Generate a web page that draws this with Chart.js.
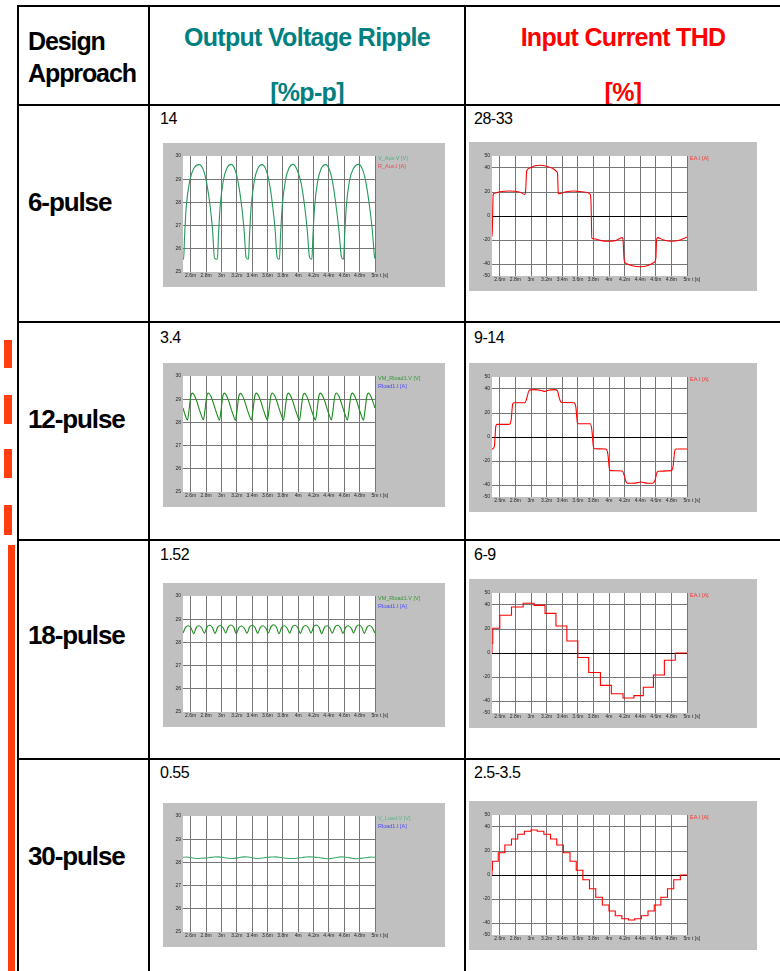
<!DOCTYPE html>
<html>
<head>
<meta charset="utf-8">
<style>
  body { margin: 0; background: #fff; width: 780px; height: 971px; overflow: hidden; position: relative;
         font-family: "Liberation Sans", Arial, sans-serif; }
  .ln { position: absolute; background: #000; }
  .bar { position: absolute; background: #ff3d0d; }
  .txt { position: absolute; line-height: 1; white-space: nowrap; }
  .hd { font-size: 25px; font-weight: bold; letter-spacing: -0.7px; text-align: center; }
  .teal { color: #008080; }
  .red { color: #ff0000; }
  #head { position: absolute; left: 0; top: 0; width: 780px; height: 104px; overflow: hidden; }
  canvas { position: absolute; }
</style>
</head>
<body>
<div id="head">
  <div class="txt" style="left:28px;top:29px;font-size:25px;font-weight:bold;letter-spacing:-1.1px;">Design</div>
  <div class="txt" style="left:28px;top:61px;font-size:25px;font-weight:bold;letter-spacing:-1.1px;">Approach</div>
  <div class="txt hd teal" style="left:150px;width:314px;top:25px;">Output Voltage Ripple</div>
  <div class="txt hd teal" style="left:150px;width:314px;top:80px;">[%p-p]</div>
  <div class="txt hd red" style="left:466px;width:314px;top:25px;">Input Current THD</div>
  <div class="txt hd red" style="left:466px;width:314px;top:80px;">[%]</div>
</div>

<!-- table rules -->
<div class="ln" style="left:17px;top:5px;width:763px;height:2px;"></div>
<div class="ln" style="left:17px;top:104px;width:763px;height:2px;"></div>
<div class="ln" style="left:17px;top:321px;width:763px;height:2px;"></div>
<div class="ln" style="left:17px;top:539px;width:763px;height:2px;"></div>
<div class="ln" style="left:17px;top:758px;width:763px;height:2px;"></div>
<div class="ln" style="left:17px;top:5px;width:2px;height:966px;"></div>
<div class="ln" style="left:148px;top:5px;width:2px;height:966px;"></div>
<div class="ln" style="left:464px;top:5px;width:2px;height:966px;"></div>

<!-- red marker bars on the left -->
<div class="bar" style="left:4px;top:340px;width:8px;height:28px;"></div>
<div class="bar" style="left:4px;top:395px;width:8px;height:29px;"></div>
<div class="bar" style="left:4px;top:449px;width:8px;height:29px;"></div>
<div class="bar" style="left:4px;top:505px;width:8px;height:30px;"></div>
<div class="bar" style="left:8px;top:545px;width:7px;height:426px;"></div>

<div id="rows"></div>

<canvas id="v6" width="282" height="144" style="left:163px;top:143px;"></canvas>
<canvas id="i6" width="288" height="149" style="left:469px;top:142px;"></canvas>
<canvas id="v12" width="282" height="144" style="left:163px;top:363px;"></canvas>
<canvas id="i12" width="288" height="149" style="left:469px;top:363px;"></canvas>
<canvas id="v18" width="282" height="144" style="left:163px;top:583px;"></canvas>
<canvas id="i18" width="288" height="149" style="left:469px;top:579px;"></canvas>
<canvas id="v30" width="282" height="144" style="left:163px;top:803px;"></canvas>
<canvas id="i30" width="288" height="149" style="left:469px;top:801px;"></canvas>

<script src="https://cdn.jsdelivr.net/npm/chart.js@4.4.1/dist/chart.umd.min.js"></script>
<script>
// table text
const designs = ['6-pulse', '12-pulse', '18-pulse', '30-pulse'];
const rippleText = ['14', '3.4', '1.52', '0.55'];
const thdText = ['28-33', '9-14', '6-9', '2.5-3.5'];

// scope axes (time in ms)
const xTickVals = [2.6, 2.8, 3.0, 3.2, 3.4, 3.6, 3.8, 4.0, 4.2, 4.4, 4.6, 4.8, 5.0];
const xTickLabels = ['2.6m', '2.8m', '3m', '3.2m', '3.4m', '3.6m', '3.8m', '4m', '4.2m', '4.4m', '4.6m', '4.8m', '5m'];
const voltTicks = [25, 26, 27, 28, 29, 30];
const currTicks = [-50, -40, -20, 0, 20, 40, 50];

// 6-pulse output voltage
const v6Time = [2.500, 2.508, 2.520, 2.542, 2.590, 2.640, 2.710, 2.765, 2.810, 2.855, 2.885, 2.910,
  2.948, 2.961, 2.983, 3.026, 3.070, 3.126, 3.178, 3.222, 3.265, 3.296, 3.322,
  3.352, 3.365, 3.387, 3.430, 3.474, 3.530, 3.582, 3.626, 3.669, 3.700, 3.726,
  3.756, 3.769, 3.791, 3.834, 3.878, 3.934, 3.986, 4.040, 4.085, 4.118, 4.148,
  4.178, 4.191, 4.213, 4.256, 4.300, 4.356, 4.408, 4.452, 4.495, 4.530, 4.565,
  4.591, 4.604, 4.626, 4.669, 4.720, 4.785, 4.840, 4.885, 4.930, 4.965, 4.995, 5.000];
const v6Volt = [25.58, 25.55, 26.5, 27.8, 28.96, 29.46, 29.63, 29.4, 28.8, 27.8, 26.8, 25.6,
  25.55, 26.5, 27.8, 28.96, 29.46, 29.64, 29.4, 28.8, 27.8, 26.8, 25.62,
  25.55, 26.5, 27.8, 28.96, 29.46, 29.63, 29.4, 28.8, 27.8, 26.8, 25.62,
  25.55, 26.5, 27.8, 28.96, 29.46, 29.64, 29.4, 28.8, 27.8, 26.8, 25.62,
  25.55, 26.5, 27.8, 28.96, 29.46, 29.63, 29.4, 28.8, 27.8, 26.8, 25.62,
  25.55, 26.5, 27.8, 28.96, 29.46, 29.64, 29.4, 28.8, 27.8, 26.8, 25.62, 25.58];

// 12-pulse output voltage
const v12Time = [2.500, 2.530,
  2.557, 2.579, 2.600, 2.622, 2.657, 2.687, 2.714, 2.740,
  2.765, 2.787, 2.808, 2.830, 2.865, 2.895, 2.922, 2.948,
  2.974, 2.996, 3.017, 3.039, 3.074, 3.104, 3.131, 3.157,
  3.182, 3.204, 3.225, 3.247, 3.282, 3.312, 3.339, 3.365,
  3.390, 3.412, 3.433, 3.455, 3.490, 3.520, 3.547, 3.573,
  3.599, 3.621, 3.642, 3.664, 3.699, 3.729, 3.756, 3.782,
  3.807, 3.829, 3.850, 3.872, 3.907, 3.937, 3.964, 3.990,
  4.015, 4.037, 4.058, 4.080, 4.115, 4.145, 4.172, 4.198,
  4.224, 4.246, 4.267, 4.289, 4.324, 4.354, 4.381, 4.407,
  4.432, 4.454, 4.475, 4.497, 4.532, 4.562, 4.589, 4.615,
  4.640, 4.662, 4.683, 4.705, 4.740, 4.770, 4.797, 4.823,
  4.849, 4.871, 4.892, 4.914, 4.949, 4.979, 5.000];
const v12Volt = [28.62, 28.30,
  28.10, 28.54, 29.10, 29.26, 29.11, 28.83, 28.54, 28.29,
  28.11, 28.55, 29.11, 29.27, 29.12, 28.84, 28.55, 28.30,
  28.10, 28.54, 29.10, 29.26, 29.11, 28.83, 28.54, 28.29,
  28.09, 28.53, 29.09, 29.25, 29.10, 28.82, 28.53, 28.28,
  28.10, 28.54, 29.10, 29.26, 29.11, 28.83, 28.54, 28.29,
  28.11, 28.55, 29.11, 29.27, 29.12, 28.84, 28.55, 28.30,
  28.10, 28.54, 29.10, 29.26, 29.11, 28.83, 28.54, 28.29,
  28.09, 28.53, 29.09, 29.25, 29.10, 28.82, 28.53, 28.28,
  28.10, 28.54, 29.10, 29.26, 29.11, 28.83, 28.54, 28.29,
  28.11, 28.55, 29.11, 29.27, 29.12, 28.84, 28.55, 28.30,
  28.10, 28.54, 29.10, 29.26, 29.11, 28.83, 28.54, 28.29,
  28.10, 28.54, 29.10, 29.26, 29.11, 28.83, 28.62];

// 18-pulse output voltage
const v18Time = [2.500, 2.535, 2.570, 2.605,
  2.639, 2.674, 2.709, 2.744,
  2.778, 2.813, 2.848, 2.883,
  2.917, 2.952, 2.987, 3.022,
  3.056, 3.091, 3.126, 3.161,
  3.194, 3.229, 3.264, 3.299,
  3.333, 3.368, 3.403, 3.438,
  3.472, 3.507, 3.542, 3.577,
  3.611, 3.646, 3.681, 3.716,
  3.750, 3.785, 3.820, 3.855,
  3.889, 3.924, 3.959, 3.994,
  4.028, 4.063, 4.098, 4.133,
  4.167, 4.202, 4.237, 4.272,
  4.306, 4.341, 4.376, 4.411,
  4.444, 4.479, 4.514, 4.549,
  4.583, 4.618, 4.653, 4.688,
  4.722, 4.757, 4.792, 4.827,
  4.861, 4.896, 4.931, 4.966,
  5.000];
const v18Volt = [28.40, 28.66, 28.72, 28.62,
  28.38, 28.65, 28.72, 28.62,
  28.40, 28.67, 28.74, 28.64,
  28.39, 28.66, 28.73, 28.63,
  28.41, 28.68, 28.75, 28.65,
  28.38, 28.64, 28.71, 28.61,
  28.40, 28.67, 28.74, 28.64,
  28.39, 28.65, 28.72, 28.62,
  28.41, 28.68, 28.76, 28.66,
  28.38, 28.65, 28.72, 28.62,
  28.40, 28.67, 28.74, 28.64,
  28.39, 28.66, 28.73, 28.63,
  28.41, 28.68, 28.75, 28.65,
  28.38, 28.65, 28.72, 28.62,
  28.40, 28.67, 28.74, 28.64,
  28.39, 28.65, 28.72, 28.62,
  28.41, 28.68, 28.75, 28.65,
  28.39, 28.66, 28.73, 28.63,
  28.40];

// 30-pulse output voltage
const v30Time = [2.50, 2.55, 2.60, 2.65, 2.70, 2.75, 2.80, 2.85, 2.90, 2.95,
  3.00, 3.05, 3.10, 3.15, 3.20, 3.25, 3.30, 3.35, 3.40, 3.45,
  3.50, 3.55, 3.60, 3.65, 3.70, 3.75, 3.80, 3.85, 3.90, 3.95,
  4.00, 4.05, 4.10, 4.15, 4.20, 4.25, 4.30, 4.35, 4.40, 4.45,
  4.50, 4.55, 4.60, 4.65, 4.70, 4.75, 4.80, 4.85, 4.90, 4.95, 5.00];
const v30Volt = [28.22, 28.23, 28.20, 28.18, 28.17, 28.18, 28.19, 28.21, 28.23, 28.24,
  28.22, 28.20, 28.18, 28.17, 28.19, 28.22, 28.24, 28.23, 28.20, 28.17,
  28.18, 28.20, 28.22, 28.23, 28.24, 28.22, 28.20, 28.18, 28.17, 28.17,
  28.19, 28.21, 28.23, 28.24, 28.23, 28.21, 28.19, 28.17, 28.16, 28.18,
  28.21, 28.24, 28.23, 28.21, 28.18, 28.16, 28.17, 28.19, 28.21, 28.23, 28.22];

// 6-pulse input current
const i6Time = [2.500, 2.505, 2.515, 2.530, 2.600, 2.720, 2.850, 2.920, 2.930, 2.945,
  2.970, 3.050, 3.120, 3.200, 3.280, 3.330, 3.340, 3.350, 3.360, 3.450,
  3.550, 3.680, 3.760, 3.770, 3.780, 3.800, 3.900, 3.980, 4.080, 4.170,
  4.180, 4.195, 4.220, 4.300, 4.400, 4.500, 4.580, 4.600, 4.610, 4.620,
  4.700, 4.800, 4.900, 5.000];
const i6Amp = [-17, -10, 18, 19, 20.2, 20.8, 20, 18, 20, 37.5,
  39.5, 41.8, 42.3, 41.5, 39.5, 37, 35.5, 19, 18.5, 20.2,
  20.8, 20, 18, 10, -18.5, -19, -20.5, -21, -20.5, -18,
  -20, -37, -39.5, -41.5, -42.3, -41.2, -38.5, -35.5, -20, -18,
  -20, -21, -20.2, -17.5];

// 12-pulse input current
const i12Time = [2.500, 2.530, 2.550, 2.565, 2.720, 2.745, 2.765, 2.780, 2.920, 2.940,
  2.970, 2.990, 3.060, 3.130, 3.180, 3.220, 3.300, 3.340, 3.360, 3.380,
  3.400, 3.550, 3.575, 3.595, 3.610, 3.760, 3.780, 3.800, 3.815, 3.960,
  3.985, 4.005, 4.020, 4.170, 4.190, 4.220, 4.240, 4.320, 4.410, 4.500,
  4.560, 4.590, 4.615, 4.635, 4.800, 4.820, 4.845, 4.860, 5.000];
const i12Amp = [-10, -8, 9.5, 10.5, 10.5, 14, 27.5, 28.5, 28.5, 31,
  38, 39.3, 39.5, 38.8, 38, 39, 39.5, 38.5, 33, 29.5,
  28.8, 28.5, 25, 12, 11, 11, 6, -8, -9.8, -10,
  -14, -26.5, -28, -28.3, -31, -37.5, -38.5, -38.5, -37.5, -38.5,
  -38.5, -36, -29.5, -28.5, -28, -25, -11, -10, -10];

// 18-pulse input current (step start times and levels)
const i18Time = [2.500, 2.510, 2.600, 2.750, 2.900, 3.040, 3.180, 3.320, 3.460, 3.600,
  3.740, 3.890, 4.030, 4.180, 4.320, 4.440, 4.570, 4.710, 4.850, 4.990, 5.000];
const i18Amp = [0, 8.2, 20.6, 31.5, 38.3, 41.4, 39.7, 33, 22.5, 10,
  -3.7, -16.3, -27, -34, -37.5, -35.5, -28.5, -18.3, -6, 0, 0];

// 30-pulse input current (step start times and levels)
const i30Time = [2.500, 2.505, 2.580, 2.665, 2.750, 2.830, 2.915, 3.000, 3.080, 3.165,
  3.250, 3.330, 3.415, 3.500, 3.580, 3.665, 3.750, 3.830, 3.915, 4.000,
  4.080, 4.165, 4.250, 4.330, 4.415, 4.500, 4.580, 4.665, 4.750, 4.830,
  4.915, 4.995, 5.000];
const i30Amp = [0, 4, 11.5, 18.5, 25, 30, 34, 36.5, 37.5, 36.5,
  34, 30, 25, 18.5, 11.5, 4, -4, -11.5, -18.5, -25,
  -30, -34, -36.5, -37.5, -36.5, -34, -30, -25, -18.5, -11.5,
  -4, 0, 0];

// row labels and the numbers above each scope
const rows = document.getElementById('rows');
const labelTops = [189, 406, 622, 843];
const valueTops = [111, 330, 547, 765];
designs.forEach((d, i) => {
  rows.insertAdjacentHTML('beforeend',
    `<div class="txt" style="left:28px;top:${labelTops[i]}px;font-size:26px;font-weight:bold;letter-spacing:-1.1px;">${d}</div>` +
    `<div class="txt" style="left:160px;top:${valueTops[i]}px;font-size:16px;letter-spacing:-0.5px;">${rippleText[i]}</div>` +
    `<div class="txt" style="left:474px;top:${valueTops[i]}px;font-size:16px;letter-spacing:-0.5px;">${thdText[i]}</div>`);
});

const FONT = '"Liberation Sans", Arial, sans-serif';
const GRID = '#767676';

// grey frame + white plot area, like the simulator screenshots
const plotBg = {
  id: 'plotBg',
  beforeDraw(chart) {
    const { ctx, chartArea: a } = chart;
    ctx.save();
    ctx.fillStyle = '#c0c0c0';
    ctx.fillRect(0, 0, chart.width, chart.height);
    ctx.fillStyle = '#fff';
    ctx.fillRect(a.left, a.top, a.width, a.height);
    ctx.restore();
  }
};

// trace names to the right of the plot, plus the "t [s]" unit
const sideLegend = {
  id: 'sideLegend',
  afterDraw(chart) {
    const { ctx, chartArea: a } = chart;
    ctx.save();
    ctx.font = '5.5px ' + FONT;
    ctx.textAlign = 'left';
    ctx.textBaseline = 'middle';
    chart.data.datasets.forEach((ds, i) => {
      ctx.fillStyle = ds.legendColor;
      ctx.fillText(ds.label, a.right + 3, a.top + 2.5 + i * 8);
    });
    ctx.font = '5px ' + FONT;
    ctx.fillStyle = '#222';
    ctx.textBaseline = 'top';
    ctx.fillText('t [s]', a.right + 5, a.bottom + 1.5);
    ctx.restore();
  }
};

function trace(label, legendColor, color, times, values, extra) {
  return Object.assign({
    label: label,
    legendColor: legendColor,
    borderColor: color,
    borderWidth: 1.1,
    pointRadius: 0,
    fill: false,
    data: times.map((t, i) => ({ x: t, y: values[i] }))
  }, extra || {});
}

function scope(id, box, yMin, yMax, yTicks, datasets) {
  return new Chart(document.getElementById(id), {
    type: 'line',
    data: { datasets: datasets },
    options: {
      responsive: false,
      animation: false,
      devicePixelRatio: 1,
      layout: { padding: { top: box.top, right: box.right, left: 0, bottom: 0 } },
      plugins: { legend: { display: false }, tooltip: { enabled: false } },
      scales: {
        x: {
          type: 'linear', min: 2.5, max: 5.0,
          afterBuildTicks: s => { s.ticks = xTickVals.map(v => ({ value: v })); },
          afterFit: s => { s.height = box.bottom; },
          ticks: { callback: (v, i) => xTickLabels[i], font: { size: 5, family: FONT }, color: '#222',
                   padding: 1, maxRotation: 0, autoSkip: false },
          grid: { color: GRID, lineWidth: 1, drawTicks: false },
          border: { display: false }
        },
        y: {
          type: 'linear', min: yMin, max: yMax,
          afterBuildTicks: s => { s.ticks = yTicks.map(v => ({ value: v })); },
          afterFit: s => { s.width = box.left; },
          ticks: { callback: v => String(v), font: { size: 5, family: FONT }, color: '#222', padding: 2 },
          grid: {
            drawTicks: false, lineWidth: 1,
            color: c => {
              const v = c.tick ? c.tick.value : null;
              if (v === yMin || v === yMax) return 'rgba(0,0,0,0)';
              return v === 0 ? '#000' : GRID;
            }
          },
          border: { display: false }
        }
      }
    },
    plugins: [plotBg, sideLegend]
  });
}

const leftBox = { left: 20, right: 70, top: 13, bottom: 15 };
const rightBox = { left: 23, right: 70, top: 14, bottom: 15 };
const smooth = { cubicInterpolationMode: 'monotone' };
const steps = { stepped: 'after' };

scope('v6', leftBox, 25, 30, voltTicks, [
  trace('V_Aux.V [V]', '#4fb07a', '#23995a', v6Time, v6Volt, smooth),
  trace('R_Aux.I [A]', '#e84848', '#e84848', [], [])
]);
scope('v12', leftBox, 25, 30, voltTicks, [
  trace('VM_Rload1.V [V]', '#2f9a2f', '#1a8c1a', v12Time, v12Volt, smooth),
  trace('Rload1.I [A]', '#4a4aff', '#4a4aff', [], [])
]);
scope('v18', leftBox, 25, 30, voltTicks, [
  trace('VM_Rload1.V [V]', '#2f9a2f', '#1a8c1a', v18Time, v18Volt, smooth),
  trace('Rload1.I [A]', '#4a4aff', '#4a4aff', [], [])
]);
scope('v30', leftBox, 25, 30, voltTicks, [
  trace('V_Load.V [V]', '#5bb583', '#3aab6c', v30Time, v30Volt, smooth),
  trace('Rload1.I [A]', '#4a4aff', '#4a4aff', [], [])
]);

scope('i6', rightBox, -50, 50, currTicks, [
  trace('EA.I [A]', '#ff3333', '#ff0000', i6Time, i6Amp, smooth)
]);
scope('i12', rightBox, -50, 50, currTicks, [
  trace('EA.I [A]', '#ff3333', '#ff0000', i12Time, i12Amp, smooth)
]);
scope('i18', rightBox, -50, 50, currTicks, [
  trace('EA.I [A]', '#ff3333', '#ff0000', i18Time, i18Amp, steps)
]);
scope('i30', rightBox, -50, 50, currTicks, [
  trace('EA.I [A]', '#ff3333', '#ff0000', i30Time, i30Amp, steps)
]);
</script>
</body>
</html>
